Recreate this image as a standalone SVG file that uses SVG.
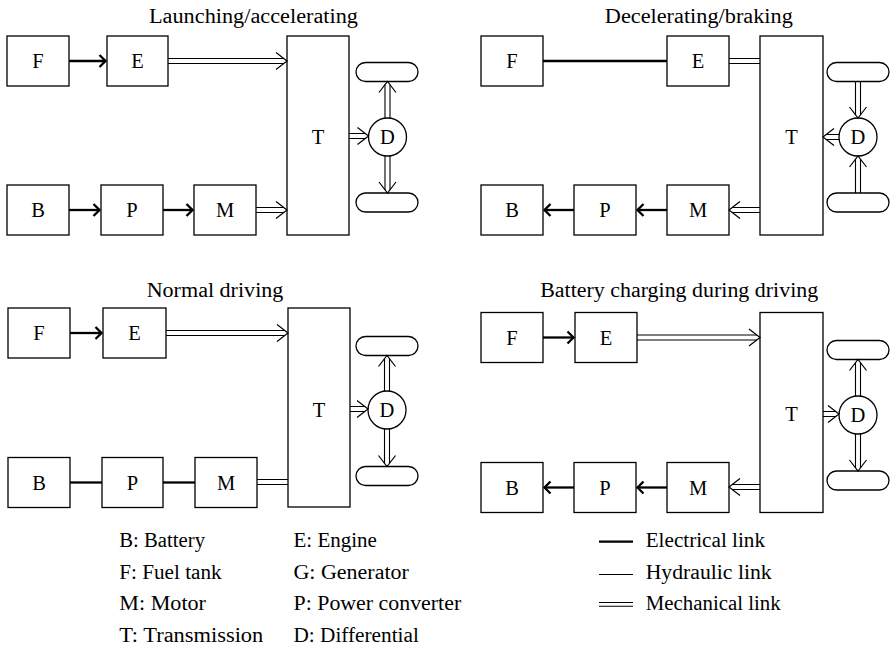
<svg xmlns="http://www.w3.org/2000/svg" xmlns:xlink="http://www.w3.org/1999/xlink" width="890" height="646" viewBox="0 0 890 646">
<style>
  text { font-family: "Liberation Serif", "Times New Roman", serif; font-size: 20px; fill: #000; }
  .lbl { text-anchor: middle; font-size: 20.5px; }
  .ttl { text-anchor: middle; font-size: 20px; }
  .box { fill: #fff; stroke: #000; stroke-width: 1.3; }
  .wheel { fill: #fff; stroke: #000; stroke-width: 1.3; }
  .elec { fill: none; stroke: #000; stroke-width: 2.3; }
  .hyd { fill: none; stroke: #000; stroke-width: 1.1; }
  .mech { fill: none; stroke: #000; stroke-width: 1.1; }
  .mhead { fill: none; stroke: #000; stroke-width: 1.2; stroke-linejoin: miter; }
  .ehead { fill: none; stroke: #000; stroke-width: 2.3; stroke-linejoin: miter; }
</style>
<defs>
  <marker id="ea" markerUnits="userSpaceOnUse" markerWidth="14" markerHeight="14" viewBox="-8 -7 10 14" refX="0" refY="0" orient="auto" overflow="visible">
    <path class="ehead" d="M-6.5,-6 L-0.5,0 L-6.5,6"/>
  </marker>
  <path id="mh" class="mhead" d="M-11,-8.5 L0,0 L-11,8.5"/>
</defs>

<!-- ============ Panel A: Launching/accelerating ============ -->
<text class="ttl" x="253.5" y="23" textLength="209" lengthAdjust="spacingAndGlyphs">Launching/accelerating</text>
<g id="a-F"><rect class="box" x="7" y="36" width="62" height="50"/><text class="lbl" x="38" y="68">F</text></g>
<g id="a-E"><rect class="box" x="107" y="36" width="61" height="50"/><text class="lbl" x="137.5" y="68">E</text></g>
<g id="a-T"><rect class="box" x="287" y="36" width="62" height="199"/><text class="lbl" x="318" y="144">T</text></g>
<g id="a-D"><circle class="box" cx="387.5" cy="137" r="19"/><text class="lbl" x="387.5" y="144">D</text></g>
<g id="a-W1"><rect class="wheel" x="356" y="62.5" width="62" height="19" rx="9.5"/></g>
<g id="a-W2"><rect class="wheel" x="356" y="193" width="62" height="19" rx="9.5"/></g>
<g id="a-B"><rect class="box" x="7" y="185" width="62" height="50"/><text class="lbl" x="38" y="217">B</text></g>
<g id="a-P"><rect class="box" x="101" y="185" width="62" height="50"/><text class="lbl" x="132" y="217">P</text></g>
<g id="a-M"><rect class="box" x="194" y="185" width="62" height="50"/><text class="lbl" x="225" y="217">M</text></g>
<g id="a-connectors">
  <line class="elec" x1="69" y1="61" x2="106" y2="61" marker-end="url(#ea)"/>
  <line class="elec" x1="69" y1="210" x2="100" y2="210" marker-end="url(#ea)"/>
  <line class="elec" x1="163" y1="210" x2="193" y2="210" marker-end="url(#ea)"/>
  <path class="mech" d="M168,58.5H284M168,63.5H284"/>
  <use xlink:href="#mh" href="#mh" transform="translate(287,61)"/>
  <path class="mech" d="M256,207.5H284M256,212.5H284"/>
  <use xlink:href="#mh" href="#mh" transform="translate(287,210)"/>
  <path class="mech" d="M349,133.5H365.5M349,138.5H365.5"/>
  <use xlink:href="#mh" href="#mh" transform="translate(368.5,136)"/>
  <path class="mech" d="M385,118V84.5M390,118V84.5"/>
  <use xlink:href="#mh" href="#mh" transform="translate(387.5,81.5) rotate(-90)"/>
  <path class="mech" d="M385,156V190M390,156V190"/>
  <use xlink:href="#mh" href="#mh" transform="translate(387.5,193) rotate(90)"/>
</g>

<!-- ============ Panel B: Decelerating/braking ============ -->
<text class="ttl" x="698.8" y="23" textLength="188" lengthAdjust="spacingAndGlyphs">Decelerating/braking</text>
<g id="b-F"><rect class="box" x="481" y="36" width="62" height="50"/><text class="lbl" x="512" y="68">F</text></g>
<g id="b-E"><rect class="box" x="667" y="36" width="62" height="50"/><text class="lbl" x="698" y="68">E</text></g>
<g id="b-T"><rect class="box" x="760" y="36" width="63" height="199"/><text class="lbl" x="791.5" y="144">T</text></g>
<g id="b-D"><circle class="box" cx="858" cy="137" r="19"/><text class="lbl" x="858" y="144">D</text></g>
<g id="b-W1"><rect class="wheel" x="827" y="62.5" width="62" height="19" rx="9.5"/></g>
<g id="b-W2"><rect class="wheel" x="827" y="193" width="62" height="19" rx="9.5"/></g>
<g id="b-B"><rect class="box" x="481" y="185" width="62" height="50"/><text class="lbl" x="512" y="217">B</text></g>
<g id="b-P"><rect class="box" x="574" y="185" width="62" height="50"/><text class="lbl" x="605" y="217">P</text></g>
<g id="b-M"><rect class="box" x="667" y="185" width="62" height="50"/><text class="lbl" x="698" y="217">M</text></g>
<g id="b-connectors">
  <line class="elec" x1="543" y1="61" x2="667" y2="61"/>
  <path class="mech" d="M729,58.5H760M729,63.5H760"/>
  <path class="mech" d="M839,134.5H826M839,139.5H826"/>
  <use xlink:href="#mh" href="#mh" transform="translate(823,137) rotate(180)"/>
  <path class="mech" d="M855.5,81.5V115M860.5,81.5V115"/>
  <use xlink:href="#mh" href="#mh" transform="translate(858,118) rotate(90)"/>
  <path class="mech" d="M855.5,193V159M860.5,193V159"/>
  <use xlink:href="#mh" href="#mh" transform="translate(858,156) rotate(-90)"/>
  <path class="mech" d="M760,207.5H732M760,212.5H732"/>
  <use xlink:href="#mh" href="#mh" transform="translate(729,210) rotate(180)"/>
  <line class="elec" x1="667" y1="210" x2="637" y2="210" marker-end="url(#ea)"/>
  <line class="elec" x1="574" y1="210" x2="544" y2="210" marker-end="url(#ea)"/>
</g>

<!-- ============ Panel C: Normal driving ============ -->
<text class="ttl" x="215" y="297" textLength="136.7" lengthAdjust="spacingAndGlyphs">Normal driving</text>
<g id="c-F"><rect class="box" x="8" y="308" width="62" height="50"/><text class="lbl" x="39" y="340">F</text></g>
<g id="c-E"><rect class="box" x="103" y="308" width="63" height="50"/><text class="lbl" x="134.5" y="340">E</text></g>
<g id="c-T"><rect class="box" x="288" y="308" width="62" height="199"/><text class="lbl" x="319" y="417">T</text></g>
<g id="c-D"><circle class="box" cx="387" cy="410" r="19"/><text class="lbl" x="387" y="417">D</text></g>
<g id="c-W1"><rect class="wheel" x="356" y="336.5" width="62" height="19" rx="9.5"/></g>
<g id="c-W2"><rect class="wheel" x="356" y="466.5" width="62" height="19" rx="9.5"/></g>
<g id="c-B"><rect class="box" x="8" y="457.5" width="62" height="50"/><text class="lbl" x="39" y="489.5">B</text></g>
<g id="c-P"><rect class="box" x="102" y="457.5" width="61" height="50"/><text class="lbl" x="132.5" y="489.5">P</text></g>
<g id="c-M"><rect class="box" x="195" y="457.5" width="62" height="50"/><text class="lbl" x="226" y="489.5">M</text></g>
<g id="c-connectors">
  <line class="elec" x1="70" y1="333" x2="102" y2="333" marker-end="url(#ea)"/>
  <path class="mech" d="M166,330.5H285M166,335.5H285"/>
  <use xlink:href="#mh" href="#mh" transform="translate(288,333)"/>
  <line class="elec" x1="70" y1="482.5" x2="102" y2="482.5"/>
  <line class="elec" x1="163" y1="482.5" x2="195" y2="482.5"/>
  <path class="mech" d="M257,479.5H288M257,484.5H288"/>
  <path class="mech" d="M350,406.5H365M350,411.5H365"/>
  <use xlink:href="#mh" href="#mh" transform="translate(368,409)"/>
  <path class="mech" d="M384.5,391V358.5M389.5,391V358.5"/>
  <use xlink:href="#mh" href="#mh" transform="translate(387,355.5) rotate(-90)"/>
  <path class="mech" d="M384.5,429V463.5M389.5,429V463.5"/>
  <use xlink:href="#mh" href="#mh" transform="translate(387,466.5) rotate(90)"/>
</g>

<!-- ============ Panel D: Battery charging during driving ============ -->
<text class="ttl" x="679.2" y="297" textLength="278" lengthAdjust="spacingAndGlyphs">Battery charging during driving</text>
<g id="d-F"><rect class="box" x="481" y="312.5" width="62" height="50"/><text class="lbl" x="512" y="344.5">F</text></g>
<g id="d-E"><rect class="box" x="575" y="312.5" width="62" height="50"/><text class="lbl" x="606" y="344.5">E</text></g>
<g id="d-T"><rect class="box" x="760" y="312.5" width="63" height="200"/><text class="lbl" x="791.5" y="421">T</text></g>
<g id="d-D"><circle class="box" cx="858" cy="415" r="19"/><text class="lbl" x="858" y="422">D</text></g>
<g id="d-W1"><rect class="wheel" x="827" y="340.5" width="62" height="19" rx="9.5"/></g>
<g id="d-W2"><rect class="wheel" x="827" y="471" width="62" height="19" rx="9.5"/></g>
<g id="d-B"><rect class="box" x="481" y="462.5" width="62" height="50"/><text class="lbl" x="512" y="494.5">B</text></g>
<g id="d-P"><rect class="box" x="574" y="462.5" width="62" height="50"/><text class="lbl" x="605" y="494.5">P</text></g>
<g id="d-M"><rect class="box" x="667" y="462.5" width="62" height="50"/><text class="lbl" x="698" y="494.5">M</text></g>
<g id="d-connectors">
  <line class="elec" x1="543" y1="337.5" x2="574" y2="337.5" marker-end="url(#ea)"/>
  <path class="mech" d="M637,335H757M637,340H757"/>
  <use xlink:href="#mh" href="#mh" transform="translate(760,337.5)"/>
  <path class="mech" d="M823,411.5H836M823,416.5H836"/>
  <use xlink:href="#mh" href="#mh" transform="translate(839,414)"/>
  <path class="mech" d="M855.5,396V362.5M860.5,396V362.5"/>
  <use xlink:href="#mh" href="#mh" transform="translate(858,359.5) rotate(-90)"/>
  <path class="mech" d="M855.5,434V468M860.5,434V468"/>
  <use xlink:href="#mh" href="#mh" transform="translate(858,471) rotate(90)"/>
  <path class="mech" d="M760,484.5H732M760,489.5H732"/>
  <use xlink:href="#mh" href="#mh" transform="translate(729,487) rotate(180)"/>
  <line class="elec" x1="667" y1="487.5" x2="637" y2="487.5" marker-end="url(#ea)"/>
  <line class="elec" x1="574" y1="487.5" x2="544" y2="487.5" marker-end="url(#ea)"/>
</g>

<!-- ============ Legend ============ -->
<g id="legend">
  <text x="119.3" y="547" textLength="85.7" lengthAdjust="spacingAndGlyphs">B: Battery</text>
  <text x="119.3" y="578.7" textLength="102.3" lengthAdjust="spacingAndGlyphs">F: Fuel tank</text>
  <text x="119.3" y="610.3" textLength="86.7" lengthAdjust="spacingAndGlyphs">M: Motor</text>
  <text x="119.3" y="642" textLength="144" lengthAdjust="spacingAndGlyphs">T: Transmission</text>
  <text x="293.5" y="547" textLength="83.3" lengthAdjust="spacingAndGlyphs">E: Engine</text>
  <text x="293.5" y="578.7" textLength="115.3" lengthAdjust="spacingAndGlyphs">G: Generator</text>
  <text x="293.5" y="610.3" textLength="167.7" lengthAdjust="spacingAndGlyphs">P: Power converter</text>
  <text x="293.5" y="642" textLength="125.3" lengthAdjust="spacingAndGlyphs">D: Differential</text>
  <line class="elec" x1="599" y1="541.7" x2="633" y2="541.7"/>
  <text x="645.7" y="547" textLength="119.3" lengthAdjust="spacingAndGlyphs">Electrical link</text>
  <line class="hyd" x1="599" y1="574.5" x2="633" y2="574.5"/>
  <text x="645.7" y="578.7" textLength="126" lengthAdjust="spacingAndGlyphs">Hydraulic link</text>
  <path class="mech" d="M599,602.5H633M599,606.3H633"/>
  <text x="645.7" y="610.3" textLength="135" lengthAdjust="spacingAndGlyphs">Mechanical link</text>
</g>
</svg>
